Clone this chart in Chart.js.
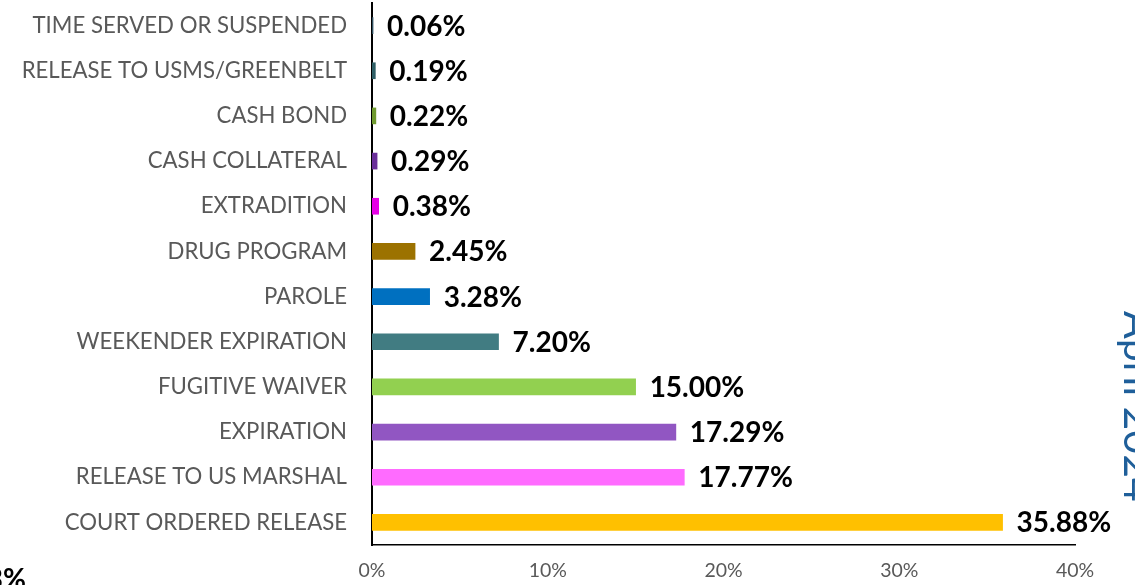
<!DOCTYPE html>
<html>
<head>
<meta charset="utf-8">
<script src="https://cdn.jsdelivr.net/npm/chart.js@4"></script>
<style>
  html, body { margin: 0; padding: 0; background: #fff; }
  #wrap { position: relative; width: 1135px; height: 585px; }
</style>
</head>
<body>
<div id="wrap"><canvas id="chartRelease"></canvas></div>
<script>
// categories top to bottom
const categories = [
  'TIME SERVED OR SUSPENDED',
  'RELEASE TO USMS/GREENBELT',
  'CASH BOND',
  'CASH COLLATERAL',
  'EXTRADITION',
  'DRUG PROGRAM',
  'PAROLE',
  'WEEKENDER EXPIRATION',
  'FUGITIVE WAIVER',
  'EXPIRATION',
  'RELEASE TO US MARSHAL',
  'COURT ORDERED RELEASE'
];
const percents = [0.06, 0.19, 0.22, 0.29, 0.38, 2.45, 3.28, 7.20, 15.00, 17.29, 17.77, 35.88];
const barColors = [
  '#2f4f5f', '#2f5f66', '#6f9a2f', '#6a2f9a', '#e600e6', '#9c7200',
  '#0070c0', '#417c82', '#92d050', '#9156c2', '#ff6bff', '#ffc000'
];
const xTicks = [0, 10, 20, 30, 40];
const sideTitle = 'April 2024';
const cutLabel = '3%';

// value labels next to each bar + the clipped texts at the edges
const extrasPlugin = {
  id: 'extras',
  afterDatasetsDraw(chart) {
    const ctx = chart.ctx;
    const meta = chart.getDatasetMeta(0);
    ctx.save();
    ctx.font = 'bold 28px Lato';
    ctx.fillStyle = '#000';
    ctx.textAlign = 'left';
    ctx.textBaseline = 'middle';
    meta.data.forEach((bar, i) => {
      ctx.fillText(percents[i].toFixed(2) + '%', bar.x + 14, bar.y + 1);
    });
    ctx.restore();
  },
  afterDraw(chart) {
    const ctx = chart.ctx;
    // side title, rotated and mostly off the right edge
    ctx.save();
    ctx.translate(1124, 311);
    ctx.rotate(Math.PI / 2);
    ctx.font = '41px Lato';
    ctx.fillStyle = '#1f5f9a';
    ctx.textAlign = 'left';
    ctx.textBaseline = 'alphabetic';
    ctx.fillText(sideTitle, 0, 0);
    ctx.restore();

    ctx.save();
    ctx.font = 'bold 28px Lato';
    ctx.fillStyle = '#000';
    ctx.textAlign = 'right';
    ctx.textBaseline = 'alphabetic';
    ctx.fillText(cutLabel, 26, 589);
    ctx.restore();
  }
};

new Chart(document.getElementById('chartRelease'), {
  type: 'bar',
  data: {
    labels: categories,
    datasets: [{
      data: percents,
      backgroundColor: barColors,
      borderWidth: 0,
      barThickness: 16
    }]
  },
  options: {
    indexAxis: 'y',
    responsive: true,
    maintainAspectRatio: false,
    animation: false,
    layout: { padding: { top: 3, right: 60, left: 0, bottom: 0 } },
    plugins: { legend: { display: false }, tooltip: { enabled: false } },
    scales: {
      x: {
        min: 0, max: 40,
        afterFit: s => { s.height = 40; s.paddingLeft = 0; s.paddingRight = 0; },
        afterBuildTicks: s => { s.ticks = xTicks.map(v => ({ value: v })); },
        grid: { display: false, drawTicks: false },
        border: { color: '#000', width: 1.5 },
        ticks: { color: '#595959', font: { family: 'Lato', size: 19.5 }, padding: 14, maxRotation: 0, callback: v => v + '%' }
      },
      y: {
        afterFit: s => { s.width = 372; s.paddingTop = 0; s.paddingBottom = 0; },
        grid: { display: false, drawTicks: false },
        border: { color: '#000', width: 2 },
        ticks: { color: '#595959', font: { family: 'Lato', size: 22.2 }, padding: 25, autoSkip: false }
      }
    }
  },
  plugins: [extrasPlugin]
});
</script>
</body>
</html>
